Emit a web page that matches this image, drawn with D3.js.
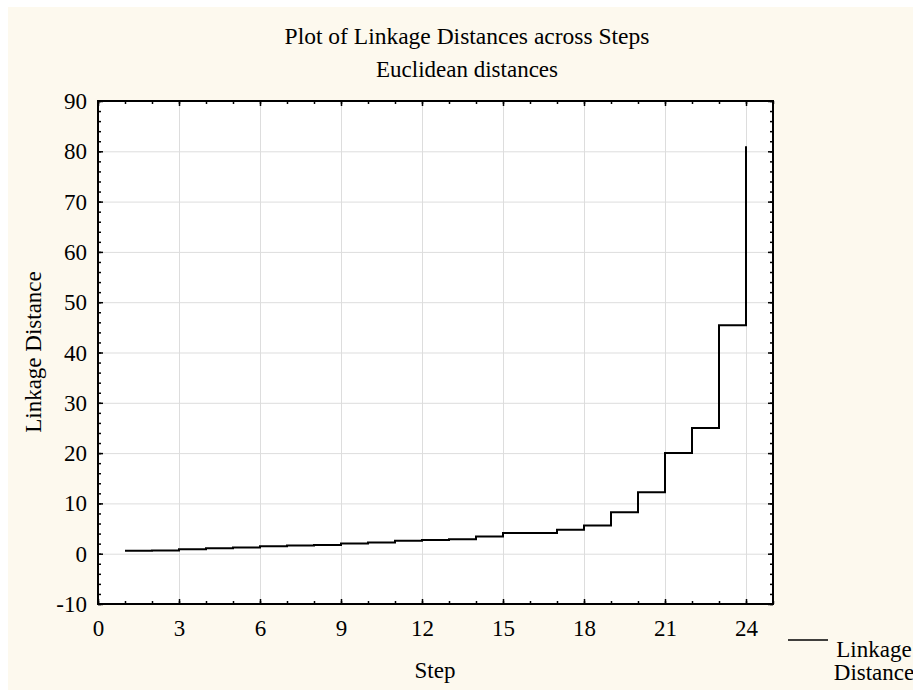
<!DOCTYPE html>
<html>
<head>
<meta charset="utf-8">
<script src="https://cdn.jsdelivr.net/npm/d3@7"></script>
<style>
  body { margin: 0; background: #fff; }
  text { font-family: "Liberation Serif", "Times New Roman", serif; fill: #000; }
  .grid line { stroke: #dddddd; stroke-width: 1; }
  .grid path { display: none; }
  .ax path { display: none; }
  .ax line { stroke: #000; stroke-width: 1.5; }
</style>
</head>
<body>
<svg width="913" height="690"></svg>
<script>
// Data
const steps = d3.range(1, 25);
const distances = [0.6, 0.65, 0.9, 1.1, 1.25, 1.5, 1.65, 1.75, 2.05, 2.25, 2.55, 2.7,
                   2.85, 3.4, 4.1, 4.1, 4.75, 5.6, 8.25, 12.2, 20.0, 25.0, 45.4, 81.0];
const xMajor = [0, 3, 6, 9, 12, 15, 18, 21, 24];
const yMajor = [-10, 0, 10, 20, 30, 40, 50, 60, 70, 80, 90];

const title = "Plot of Linkage Distances across Steps";
const subtitle = "Euclidean distances";

const svg = d3.select("svg");
const m = { left: 98, right: 773, top: 101, bottom: 604 };

const x = d3.scaleLinear().domain([0, 25]).range([m.left, m.right]);
const y = d3.scaleLinear().domain([-10, 90]).range([m.bottom, m.top]);
const w = m.right - m.left, h = m.bottom - m.top;

// background panel
svg.append("rect").attr("x", 8).attr("y", 7).attr("width", 905).attr("height", 683)
  .attr("fill", "#fdf9ee");
svg.append("rect").attr("x", m.left).attr("y", m.top).attr("width", w).attr("height", h)
  .attr("fill", "#fff");

// grid
svg.append("g").attr("class", "grid").attr("transform", `translate(0,${m.bottom})`)
  .call(d3.axisBottom(x).tickValues(xMajor.filter(v => v > 0)).tickSize(-h).tickFormat(""));
svg.append("g").attr("class", "grid").attr("transform", `translate(${m.left},0)`)
  .call(d3.axisLeft(y).tickValues(yMajor.slice(1, -1)).tickSize(-w).tickFormat(""));

// minor + major ticks, pointing inward
const minorX = d3.range(0, 26);
const minorY = d3.range(-10, 91, 2);
function ticks(axisFn, scale, vals, size, tr) {
  svg.append("g").attr("class", "ax").attr("transform", tr)
    .call(axisFn(scale).tickValues(vals).tickSize(-size).tickFormat(""));
}
ticks(d3.axisBottom, x, minorX, 3, `translate(0,${m.bottom})`);
ticks(d3.axisBottom, x, xMajor, 5, `translate(0,${m.bottom})`);
ticks(d3.axisTop, x, minorX, 3, `translate(0,${m.top})`);
ticks(d3.axisTop, x, xMajor, 5, `translate(0,${m.top})`);
ticks(d3.axisLeft, y, minorY, 3, `translate(${m.left},0)`);
ticks(d3.axisLeft, y, yMajor, 5, `translate(${m.left},0)`);
ticks(d3.axisRight, y, minorY, 3, `translate(${m.right},0)`);
ticks(d3.axisRight, y, yMajor, 5, `translate(${m.right},0)`);

// tick labels (plain hyphen for negatives, as in the original)
const fmt = d => String(d);
svg.append("g").attr("transform", `translate(0,${m.bottom})`)
  .call(d3.axisBottom(x).tickValues(xMajor).tickSize(0).tickPadding(16).tickFormat(fmt))
  .call(g => g.select(".domain").remove())
  .selectAll("text").attr("font-size", 23).attr("font-family", null);
svg.append("g").attr("transform", `translate(${m.left},0)`)
  .call(d3.axisLeft(y).tickValues(yMajor).tickSize(0).tickPadding(11).tickFormat(fmt))
  .call(g => g.select(".domain").remove())
  .selectAll("text").attr("font-size", 23).attr("font-family", null).attr("dy", "0.33em");

// frame
svg.append("rect").attr("x", m.left).attr("y", m.top).attr("width", w).attr("height", h)
  .attr("fill", "none").attr("stroke", "#000").attr("stroke-width", 2);

// step line
const line = d3.line().x((d, i) => x(steps[i])).y(d => y(d)).curve(d3.curveStepAfter);
svg.append("path").datum(distances).attr("d", line)
  .attr("fill", "none").attr("stroke", "#000").attr("stroke-width", 2);

// titles
svg.append("text").attr("x", 467).attr("y", 44).attr("text-anchor", "middle")
  .attr("font-size", 23.5).text(title);
svg.append("text").attr("x", 467).attr("y", 77).attr("text-anchor", "middle")
  .attr("font-size", 23).text(subtitle);
svg.append("text").attr("x", 435).attr("y", 678).attr("text-anchor", "middle")
  .attr("font-size", 23).text("Step");
svg.append("text").attr("transform", "translate(41,352) rotate(-90)")
  .attr("text-anchor", "middle").attr("font-size", 23).text("Linkage Distance");

// legend
svg.append("line").attr("x1", 788).attr("x2", 828).attr("y1", 640).attr("y2", 640)
  .attr("stroke", "#000").attr("stroke-width", 1.5);
svg.append("text").attr("x", 874).attr("y", 657).attr("text-anchor", "middle")
  .attr("font-size", 23).text("Linkage");
svg.append("text").attr("x", 874).attr("y", 680).attr("text-anchor", "middle")
  .attr("font-size", 23).text("Distance");
</script>
</body>
</html>
